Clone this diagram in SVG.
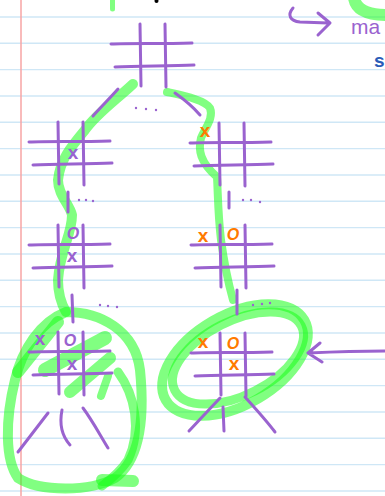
<svg xmlns="http://www.w3.org/2000/svg" width="385" height="496" viewBox="0 0 385 496">
<style>
.rule{stroke:#cfe7f6;stroke-width:1.4}
.pen{fill:none;stroke:#9a63cf;stroke-width:3;stroke-linecap:round;stroke-linejoin:round}
.hl{fill:none;stroke:#19ff19;stroke-opacity:0.55;stroke-linecap:round;stroke-linejoin:round}
.dot{fill:#9a63cf}
.mk{font-family:"Liberation Sans",Arial,sans-serif;text-anchor:middle;font-weight:bold}
.px{fill:#9a63cf}
.ox{fill:#ff7a00}
</style>
<defs>
<g id="board" class="pen">
<path d="M0,0 L1,62"/>
<path d="M25,0 L26,63"/>
<path d="M-29,20 C-10,19 20,20 52,19"/>
<path d="M-25,43 C0,42 30,42 54,41"/>
</g>
</defs>
<rect width="385" height="496" fill="#ffffff"/>
<g id="paper">
<path class="rule" d="M0,17H385M0,43.3H385M0,69.6H385M0,96H385M0,122.3H385M0,148.6H385M0,175H385M0,201.3H385M0,227.6H385M0,254H385M0,280.3H385M0,306.6H385M0,333H385M0,359.3H385M0,385.6H385M0,412H385M0,438.3H385M0,464.6H385M0,491H385"/>
<path d="M21,0V496" stroke="#f7a5a5" stroke-width="1.5"/>
</g>
<g id="highlights">
<path class="hl" stroke-width="5" stroke-linecap="butt" d="M112.5,0V9"/>
<path class="hl" stroke-width="12" d="M354,-2 C356,10 368,15 387,15"/>
<path class="hl" stroke-width="10" d="M133,84 C116,100 96,114 85,130 C70,148 60,160 58,180 C58,195 70,205 72,215 C72,235 60,250 58,280 C58,295 62,305 66,312"/>
<path class="hl" stroke-width="8" d="M167,92 C185,96 205,100 210,108 C214,118 205,128 201,138 C198,150 200,162 217,177 C218,195 218,215 221,240 C224,262 228,282 233,300"/>
<path class="hl" stroke-width="10" d="M66,312 C100,312 135,330 140,370 C145,420 140,460 115,478 C90,492 40,492 18,478 C5,460 5,420 15,380 C22,350 40,322 66,312"/>
<path class="hl" stroke-width="9" d="M118,372 C135,395 142,430 128,460 C120,472 110,480 102,486"/>
<path class="hl" stroke-width="12" stroke-linecap="butt" d="M102,480 L133,481"/>
<path class="hl" stroke-width="12" d="M18,372 L58,322"/>
<path class="hl" stroke-width="14" d="M45,370 L105,338"/>
<path class="hl" stroke-width="12" d="M70,392 L110,358"/>
<path class="hl" stroke-width="8" d="M101,396 L108,376"/>
<ellipse class="hl" stroke-width="10" cx="235" cy="360" rx="80" ry="45" transform="rotate(-30 235 360)"/>
<ellipse class="hl" stroke-width="9" cx="238" cy="358" rx="71" ry="37" transform="rotate(-27 238 358)"/>
</g>
<g id="connectors">
<path class="pen" d="M118,89 C110,98 100,108 93,116"/>
<path class="pen" d="M175,93 C185,100 194,108 200,115"/>
<path class="pen" d="M68,192 L68,212"/>
<path class="pen" d="M72,295 L73,322"/>
<path class="pen" d="M229,192 L229,208"/>
<path class="pen" d="M237,290 L237,314"/>
<path class="pen" d="M48,413 L18,452"/>
<path class="pen" d="M62,410 C59,425 62,436 70,445"/>
<path class="pen" d="M83,408 C92,420 100,435 108,448"/>
<path class="pen" d="M220,398 L189,431"/>
<path class="pen" d="M223,407 L224,431"/>
<path class="pen" d="M245,397 C255,408 266,420 275,432"/>
<path class="pen" d="M385,351 C360,351 330,352 308,353 M320,343 L308,353 L322,362"/>
<path class="pen" d="M293,8 C287,15 290,21 300,22 L328,23 M318,13 L330,23 L318,35"/>
<g class="dot">
<circle cx="136" cy="108" r="1.2"/><circle cx="146" cy="109" r="1.2"/><circle cx="156" cy="110" r="1.2"/>
<circle cx="79" cy="200" r="1.2"/><circle cx="86" cy="200" r="1.2"/><circle cx="93" cy="201" r="1.2"/>
<circle cx="100" cy="305" r="1.2"/><circle cx="108" cy="306" r="1.2"/><circle cx="117" cy="307" r="1.2"/>
<circle cx="243" cy="200" r="1.2"/><circle cx="251" cy="200" r="1.2"/><circle cx="260" cy="202" r="1.2"/>
<circle cx="253" cy="305" r="1.2"/><circle cx="262" cy="304" r="1.2"/><circle cx="270" cy="303" r="1.2"/>
</g>
</g>
<g id="root"><use href="#board" x="140" y="24"/></g>
<g id="left1"><use href="#board" x="58" y="122"/>
<text class="mk px" x="73" y="159" font-size="19">x</text></g>
<g id="left2"><use href="#board" x="58" y="225"/>
<text class="mk px" x="73" y="239" font-size="16" font-style="italic">O</text>
<text class="mk px" x="72" y="262" font-size="19">x</text></g>
<g id="left3"><use href="#board" x="58" y="332"/>
<text class="mk px" x="40" y="345" font-size="19">x</text>
<text class="mk px" x="70" y="346" font-size="16" font-style="italic">O</text>
<text class="mk px" x="72" y="370" font-size="19">x</text></g>
<g id="right1"><use href="#board" x="219" y="123"/>
<text class="mk ox" x="205" y="137" font-size="19">x</text></g>
<g id="right2"><use href="#board" x="220" y="225"/>
<text class="mk ox" x="203" y="242" font-size="19">x</text>
<text class="mk ox" x="233" y="240" font-size="16" font-style="italic">O</text></g>
<g id="right3"><use href="#board" x="220" y="333"/>
<text class="mk ox" x="203" y="348" font-size="19">x</text>
<text class="mk ox" x="233" y="349" font-size="16" font-style="italic">O</text>
<text class="mk ox" x="234" y="370" font-size="19">x</text></g>
<g id="notes">
<circle cx="156.5" cy="1" r="2" fill="#000"/>
<text x="351" y="34" font-family="Liberation Sans, Arial, sans-serif" font-size="21" fill="#9a63cf">ma</text>
<text x="374" y="67" font-family="Liberation Sans, Arial, sans-serif" font-size="19" font-weight="bold" fill="#2a5cb8">s</text>
</g>
</svg>
